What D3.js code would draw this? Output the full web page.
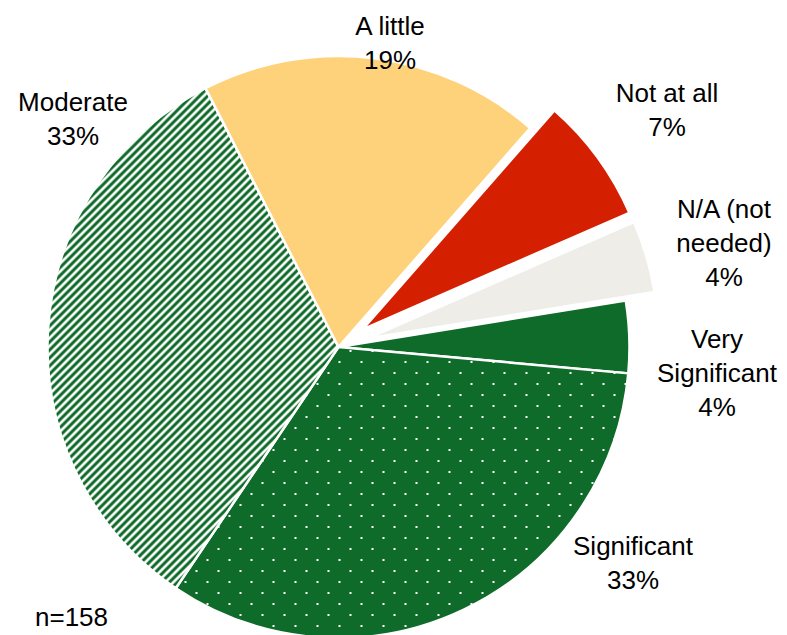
<!DOCTYPE html>
<html>
<head>
<meta charset="utf-8">
<script src="https://cdn.jsdelivr.net/npm/d3@7"></script>
<style>
  html, body { margin: 0; padding: 0; background: #ffffff; }
  svg { display: block; }
  text { font-family: "Liberation Sans", Arial, Helvetica, sans-serif; fill: #000; }
</style>
</head>
<body>
<svg id="chart" width="787" height="635"></svg>
<script>
// Survey responses, in drawing order (clockwise)
const categories = ["Very Significant", "Significant", "Moderate", "A little", "Not at all", "N/A (not needed)"];
const values = [4, 33, 33, 19, 7, 4];
const labelLines = [["Very", "Significant"], ["Significant"], ["Moderate"], ["A little"], ["Not at all"], ["N/A (not", "needed)"]];
const exploded = ["Not at all", "N/A (not needed)"];
const sampleNote = "n=158";

const W = 787, H = 635;
const cx = 338.5, cy = 347, R = 291;
const explodeDist = 30;
const green = "#0e6b29";

const fills = {
  "Very Significant": green,
  "Significant": "url(#dots)",
  "Moderate": "url(#stripes)",
  "A little": "#fed27a",
  "Not at all": "#d42000",
  "N/A (not needed)": "#eeede8"
};

// label anchor (centre x, first baseline) for each category
const labelAnchor = {
  "Very Significant": [717, 348],
  "Significant": [633, 555],
  "Moderate": [73, 111],
  "A little": [390, 35],
  "Not at all": [667, 102],
  "N/A (not needed)": [724, 218]
};
const lineH = 34;

const svg = d3.select("#chart");
const defs = svg.append("defs");

// "/" diagonal green stripes on white, pixel-aligned tile
const P = 8, w = 4.2;
const stripes = defs.append("pattern")
  .attr("id", "stripes")
  .attr("patternUnits", "userSpaceOnUse")
  .attr("width", P).attr("height", P);
stripes.append("rect").attr("width", P).attr("height", P).attr("fill", "#ffffff");
stripes.append("path")
  .attr("d", `M0,0 L${w},0 L0,${w} Z M${P},0 L${P},${w} L${w},${P} L0,${P} Z`)
  .attr("fill", green);

// white dots on dark green
const dots = defs.append("pattern")
  .attr("id", "dots")
  .attr("patternUnits", "userSpaceOnUse")
  .attr("width", 22).attr("height", 22);
dots.append("rect").attr("width", 22).attr("height", 22).attr("fill", green);
dots.append("rect").attr("x", 0).attr("y", 14).attr("width", 2).attr("height", 2).attr("fill", "#ffffff");
dots.append("rect").attr("x", 11).attr("y", 3).attr("width", 2).attr("height", 2).attr("fill", "#ffffff");

const data = categories.map((c, i) => ({ name: c, value: values[i], lines: labelLines[i] }));

const start = 80.8 * Math.PI / 180;
const pie = d3.pie().sort(null).value(d => d.value)
  .startAngle(start).endAngle(start + 2 * Math.PI);
const arc = d3.arc().innerRadius(0).outerRadius(R);

const arcs = pie(data);
const g = svg.append("g").attr("transform", `translate(${cx},${cy})`);

g.selectAll("path.slice")
  .data(arcs)
  .join("path")
  .attr("class", "slice")
  .attr("d", arc)
  .attr("fill", d => fills[d.data.name])
  .attr("stroke", "#ffffff")
  .attr("stroke-width", 2.5)
  .attr("stroke-linejoin", "miter")
  .attr("transform", d => {
    if (!exploded.includes(d.data.name)) return null;
    const mid = (d.startAngle + d.endAngle) / 2;
    return `translate(${Math.sin(mid) * explodeDist},${-Math.cos(mid) * explodeDist})`;
  });

// data labels: category lines then percentage
const total = d3.sum(values);
arcs.forEach(d => {
  const [x, y] = labelAnchor[d.data.name];
  const t = svg.append("text")
    .attr("text-anchor", "middle")
    .attr("font-size", 26);
  const lines = d.data.lines.concat([Math.round(d.data.value / total * 100) + "%"]);
  lines.forEach((ln, i) => {
    t.append("tspan").attr("x", x).attr("y", y + i * lineH).text(ln);
  });
});

svg.append("text")
  .attr("x", 35).attr("y", 626)
  .attr("font-size", 26)
  .text(sampleNote);
</script>
</body>
</html>
